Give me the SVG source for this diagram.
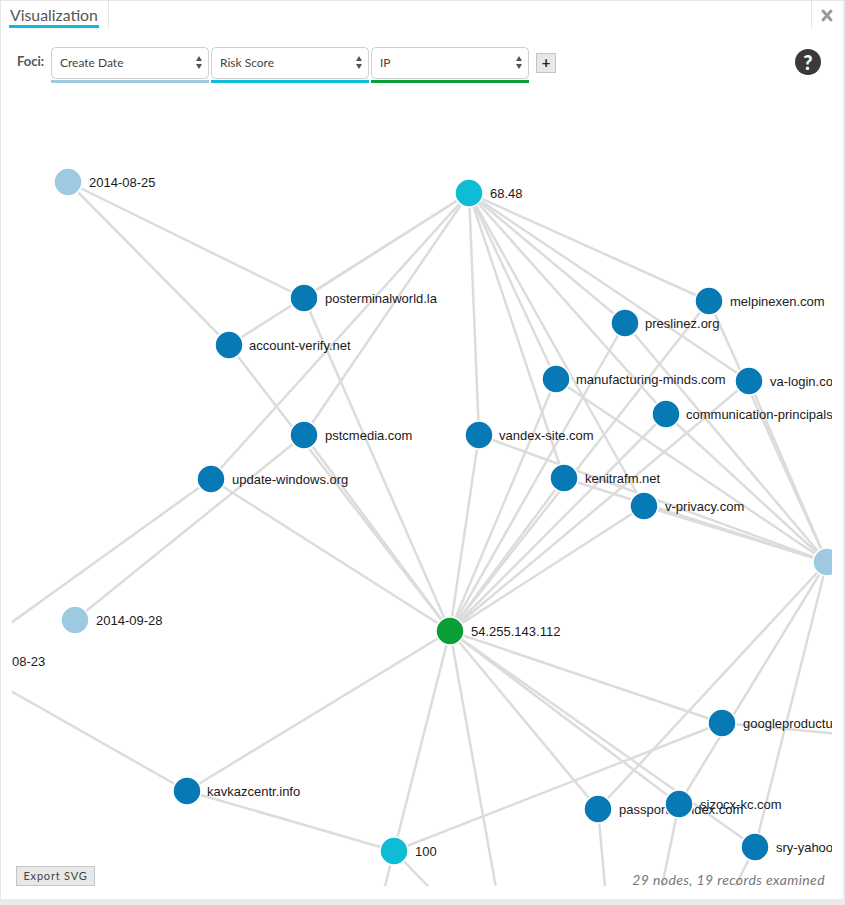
<svg xmlns="http://www.w3.org/2000/svg" width="845" height="905" viewBox="0 0 845 905">
<style>
.edge{stroke:#dcdcdc;stroke-width:2.5;fill:none}
.n circle{stroke:#fff;stroke-width:1.5}
.dom circle{fill:#0779b4}
.date circle{fill:#9ecae1}
.risk circle{fill:#0dbcd5}
.ip circle{fill:#0a9e37}
.n text{font-family:"Liberation Sans",Arial,sans-serif;font-size:13px;fill:#1a1a1a}
.ui{font-family:Lato,"Open Sans",sans-serif}
.sel{fill:#fff;stroke:#cfcfcf;stroke-width:1}
.seltext{font-family:Lato,"Open Sans",sans-serif;font-size:12px;fill:#444}
.arr{fill:#555}
</style>
<defs>
<clipPath id="gclip"><rect x="12" y="90" width="820" height="796"/></clipPath>
</defs>
<rect x="0" y="0" width="845" height="905" fill="#fff"/>
<rect x="0.5" y="0.5" width="843" height="899" fill="none" stroke="#e6e6e6"/>
<rect x="0" y="899" width="845" height="6" fill="#ebebeb"/>
<rect x="843" y="0" width="2" height="905" fill="#ebebeb"/>
<g id="header">
<text class="ui" x="10" y="21" font-size="15.8" fill="#555">Visualization</text>
<rect x="9" y="25" width="90" height="3" fill="#0dbcd5"/>
<line x1="108.5" y1="0" x2="108.5" y2="28" stroke="#e6e6e6"/>
<line x1="811.5" y1="0" x2="811.5" y2="28" stroke="#e6e6e6"/>
<g stroke="#9a9a9a" stroke-width="3" stroke-linecap="round">
<line x1="823" y1="11" x2="831" y2="20"/>
<line x1="831" y1="11" x2="823" y2="20"/>
</g>
</g>
<g id="foci">
<text class="ui" x="17" y="66" font-size="13" font-weight="bold" fill="#555">Foci:</text>
<rect class="sel" x="51.5" y="47.5" width="157" height="31" rx="4"/>
<text class="seltext" x="60" y="67">Create Date</text>
<polygon class="arr" points="196,61 202,61 199,56"/>
<polygon class="arr" points="196,64 202,64 199,69"/>
<rect x="51" y="80" width="158" height="3" fill="#9ecae1"/>
<rect class="sel" x="211.5" y="47.5" width="157" height="31" rx="4"/>
<text class="seltext" x="220" y="67">Risk Score</text>
<polygon class="arr" points="356,61 362,61 359,56"/>
<polygon class="arr" points="356,64 362,64 359,69"/>
<rect x="211" y="80" width="158" height="3" fill="#0dbcd5"/>
<rect class="sel" x="371.5" y="47.5" width="157" height="31" rx="4"/>
<text class="seltext" x="380" y="67">IP</text>
<polygon class="arr" points="516,61 522,61 519,56"/>
<polygon class="arr" points="516,64 522,64 519,69"/>
<rect x="371" y="80" width="158" height="3" fill="#0a9e37"/>
<rect x="536.5" y="53.5" width="19" height="19" fill="#e8e8e8" stroke="#c4c4c4"/>
<text class="ui" x="546" y="68" font-size="15" font-weight="bold" fill="#222" text-anchor="middle">+</text>
<circle cx="808" cy="62" r="13" fill="#3a3a3a"/>
<text class="ui" x="808" y="69.5" font-size="20" font-weight="900" fill="#fff" text-anchor="middle">?</text>
</g>
<g clip-path="url(#gclip)">
<g id="connectors">
<line class="edge" x1="68" y1="182" x2="304" y2="298"/>
<line class="edge" x1="68" y1="182" x2="229" y2="345"/>
<line class="edge" x1="75" y1="620" x2="304" y2="435"/>
<line class="edge" x1="-42" y1="661" x2="211" y2="479"/>
<line class="edge" x1="-42" y1="661" x2="187" y2="791"/>
<line class="edge" x1="827" y1="562" x2="709" y2="301"/>
<line class="edge" x1="827" y1="562" x2="625" y2="323"/>
<line class="edge" x1="827" y1="562" x2="556" y2="379"/>
<line class="edge" x1="827" y1="562" x2="749" y2="381"/>
<line class="edge" x1="827" y1="562" x2="666" y2="414"/>
<line class="edge" x1="827" y1="562" x2="564" y2="478"/>
<line class="edge" x1="827" y1="562" x2="644" y2="506"/>
<line class="edge" x1="827" y1="562" x2="479" y2="435"/>
<line class="edge" x1="827" y1="562" x2="598" y2="809"/>
<line class="edge" x1="827" y1="562" x2="679" y2="804"/>
<line class="edge" x1="827" y1="562" x2="755" y2="847"/>
<line class="edge" x1="722" y1="723" x2="960" y2="745"/>
<line class="edge" x1="469" y1="193" x2="304" y2="298"/>
<line class="edge" x1="469" y1="193" x2="229" y2="345"/>
<line class="edge" x1="469" y1="193" x2="304" y2="435"/>
<line class="edge" x1="469" y1="193" x2="211" y2="479"/>
<line class="edge" x1="469" y1="193" x2="479" y2="435"/>
<line class="edge" x1="469" y1="193" x2="709" y2="301"/>
<line class="edge" x1="469" y1="193" x2="749" y2="381"/>
<line class="edge" x1="469" y1="193" x2="625" y2="323"/>
<line class="edge" x1="469" y1="193" x2="556" y2="379"/>
<line class="edge" x1="469" y1="193" x2="666" y2="414"/>
<line class="edge" x1="469" y1="193" x2="564" y2="478"/>
<line class="edge" x1="469" y1="193" x2="644" y2="506"/>
<line class="edge" x1="394" y1="851" x2="187" y2="791"/>
<line class="edge" x1="394" y1="851" x2="722" y2="723"/>
<line class="edge" x1="394" y1="851" x2="511" y2="972"/>
<line class="edge" x1="598" y1="809" x2="608" y2="920"/>
<line class="edge" x1="679" y1="804" x2="655" y2="920"/>
<line class="edge" x1="755" y1="847" x2="725" y2="907"/>
<line class="edge" x1="450" y1="631" x2="304" y2="298"/>
<line class="edge" x1="450" y1="631" x2="229" y2="345"/>
<line class="edge" x1="450" y1="631" x2="304" y2="435"/>
<line class="edge" x1="450" y1="631" x2="211" y2="479"/>
<line class="edge" x1="450" y1="631" x2="479" y2="435"/>
<line class="edge" x1="450" y1="631" x2="556" y2="379"/>
<line class="edge" x1="450" y1="631" x2="625" y2="323"/>
<line class="edge" x1="450" y1="631" x2="709" y2="301"/>
<line class="edge" x1="450" y1="631" x2="749" y2="381"/>
<line class="edge" x1="450" y1="631" x2="666" y2="414"/>
<line class="edge" x1="450" y1="631" x2="564" y2="478"/>
<line class="edge" x1="450" y1="631" x2="644" y2="506"/>
<line class="edge" x1="450" y1="631" x2="187" y2="791"/>
<line class="edge" x1="450" y1="631" x2="722" y2="723"/>
<line class="edge" x1="450" y1="631" x2="598" y2="809"/>
<line class="edge" x1="450" y1="631" x2="679" y2="804"/>
<line class="edge" x1="450" y1="631" x2="755" y2="847"/>
<line class="edge" x1="450" y1="631" x2="370" y2="945"/>
<line class="edge" x1="450" y1="631" x2="511" y2="972"/>
</g>
<g id="nodes">
<g id="n-2014-08-25" class="n date"><circle cx="68" cy="182" r="14"/><text x="89" y="187">2014-08-25</text></g>
<g id="n-68-48" class="n risk"><circle cx="469" cy="193" r="14"/><text x="490" y="198">68.48</text></g>
<g id="n-posterminalworld" class="n dom"><circle cx="304" cy="298" r="14"/><text x="325" y="303">posterminalworld.la</text></g>
<g id="n-account-verify" class="n dom"><circle cx="229" cy="345" r="14"/><text x="249" y="350">account-verify.net</text></g>
<g id="n-melpinexen" class="n dom"><circle cx="709" cy="301" r="14"/><text x="730" y="306">melpinexen.com</text></g>
<g id="n-preslinez" class="n dom"><circle cx="625" cy="323" r="14"/><text x="645" y="328">preslinez.org</text></g>
<g id="n-manufacturing-minds" class="n dom"><circle cx="556" cy="379" r="14"/><text x="576" y="384">manufacturing-minds.com</text></g>
<g id="n-va-login" class="n dom"><circle cx="749" cy="381" r="14"/><text x="770" y="386">va-login.co</text></g>
<g id="n-communication-principals" class="n dom"><circle cx="666" cy="414" r="14"/><text x="686" y="419">communication-principals</text></g>
<g id="n-pstcmedia" class="n dom"><circle cx="304" cy="435" r="14"/><text x="325" y="440">pstcmedia.com</text></g>
<g id="n-vandex-site" class="n dom"><circle cx="479" cy="435" r="14"/><text x="499" y="440">vandex-site.com</text></g>
<g id="n-update-windows" class="n dom"><circle cx="211" cy="479" r="14"/><text x="232" y="484">update-windows.org</text></g>
<g id="n-kenitrafm" class="n dom"><circle cx="564" cy="478" r="14"/><text x="585" y="483">kenitrafm.net</text></g>
<g id="n-v-privacy" class="n dom"><circle cx="644" cy="506" r="14"/><text x="665" y="511">v-privacy.com</text></g>
<g id="n-date-right" class="n date"><circle cx="827" cy="562" r="14"/></g>
<g id="n-2014-09-28" class="n date"><circle cx="75" cy="620" r="14"/><text x="96" y="625">2014-09-28</text></g>
<g id="n-2014-08-23" class="n date"><circle cx="-42" cy="661" r="14"/><text x="12" y="666">08-23</text></g>
<g id="n-54-255-143-112" class="n ip"><circle cx="450" cy="631" r="14"/><text x="471" y="636">54.255.143.112</text></g>
<g id="n-googleproductu" class="n dom"><circle cx="722" cy="723" r="14"/><text x="743" y="728">googleproductu</text></g>
<g id="n-kavkazcentr" class="n dom"><circle cx="187" cy="791" r="14"/><text x="207" y="796">kavkazcentr.info</text></g>
<g id="n-passport-yandex" class="n dom"><circle cx="598" cy="809" r="14"/><text x="619" y="814">passport-yandex.com</text></g>
<g id="n-sizocx-kc" class="n dom"><circle cx="679" cy="804" r="14"/><text x="700" y="809">sizocx-kc.com</text></g>
<g id="n-sry-yahoo" class="n dom"><circle cx="755" cy="847" r="14"/><text x="776" y="852">sry-yahoo</text></g>
<g id="n-100" class="n risk"><circle cx="394" cy="851" r="14"/><text x="415" y="856">100</text></g>
</g>
</g>
<g id="footer">
<rect x="16.5" y="866.5" width="78" height="19" fill="#e8e8e8" stroke="#c6c6c6"/>
<text class="ui" x="55.5" y="880" font-size="11" fill="#444" text-anchor="middle" letter-spacing="0.8">Export SVG</text>
<text class="ui" x="825" y="885" font-size="14" font-style="italic" fill="#777" text-anchor="end" letter-spacing="0.4">29 nodes, 19 records examined</text>
</g>
</svg>
